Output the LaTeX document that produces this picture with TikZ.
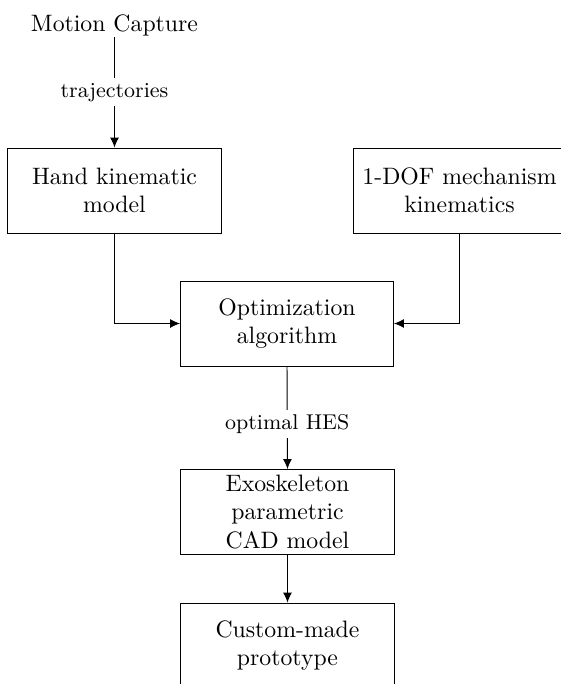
\documentclass[tikz,border=0pt]{standalone}
\usetikzlibrary{arrows.meta}
\begin{document}
\begin{tikzpicture}[x=0.421pt,y=-0.421pt,
  blk/.style={draw, minimum width=89.7pt, minimum height=35.8pt, align=center, inner sep=2pt},
  arr/.style={-{Latex[length=4.2pt,width=3.8pt]}},
  lbl/.style={fill=white, font=\small, inner sep=2pt}]
\clip (0,0) rectangle (561,684);
\useasboundingbox (0,0) rectangle (561,684);
\node[inner sep=0pt, anchor=base] (mc) at (114.5,32) {Motion Capture};
\node[blk] (hand) at (114.5,190.5) {Hand kinematic\\model};
\node[blk] (dof) at (459.5,190.5) {1-DOF mechanism\\kinematics};
\node[blk] (opt) at (287,323.5) {Optimization\\algorithm};
\node[blk] (exo) at (287.5,512) {Exoskeleton\\parametric\\CAD model};
\node[blk] (cus) at (287.5,645.5) {Custom-made\\prototype};
\draw[arr] (mc.south) -- node[lbl] {trajectories} (hand.north);
\draw[arr] (hand.south) |- (opt.west);
\draw[arr] (dof.south) |- (opt.east);
\draw[arr] (opt.south) -- node[lbl, pos=0.56] {optimal HES} (exo.north);
\draw[arr] (exo.south) -- (cus.north);
\end{tikzpicture}
\end{document}
